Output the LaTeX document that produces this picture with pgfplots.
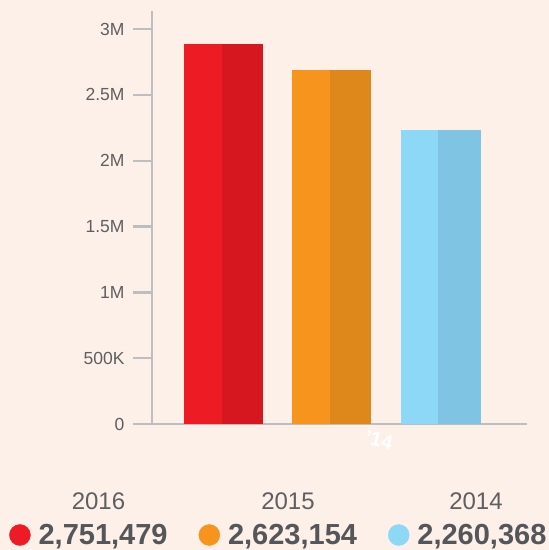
\documentclass[border=0pt]{standalone}
\usepackage{pgfplots}
\pgfplotsset{compat=1.18}
\usepackage{fontspec}
\setmainfont{Liberation Sans}
\definecolor{bg}{HTML}{FDF0E9}
\definecolor{redL}{HTML}{ED1C24}
\definecolor{redD}{HTML}{D7171F}
\definecolor{orL}{HTML}{F7941D}
\definecolor{orD}{HTML}{DE871A}
\definecolor{blL}{HTML}{8DD7F7}
\definecolor{blD}{HTML}{7FC4E2}
\definecolor{axisgray}{HTML}{BDBEC0}
\definecolor{tickgray}{HTML}{5E5F61}
\definecolor{valgray}{HTML}{555659}
\begin{document}
\begin{tikzpicture}[x=1pt,y=1pt]
\fill[bg] (0,0) rectangle (549,550);
\useasboundingbox (0,0) rectangle (549,550);
\begin{axis}[
  at={(152pt,126pt)}, anchor=south west,
  scale only axis, width=375pt, height=413pt,
  xmin=0, xmax=375, ymin=0, ymax=3138000,
  enlargelimits=false, clip=false,
  axis x line=bottom, axis y line=left,
  axis line style={-, draw=axisgray, line width=2pt},
  xtick=\empty,
  ytick={0,500000,1000000,1500000,2000000,2500000,3000000},
  yticklabels={0,500K,1M,1.5M,2M,2.5M,3M},
  scaled y ticks=false,
  /pgf/number format/assume math mode=true,
  tick align=outside, major tick length=19pt,
  every tick/.style={draw=axisgray, line width=2.5pt},
  yticklabel style={font=\fontsize{17.5}{19}\selectfont, text=tickgray, xshift=-5pt},
  legend style={at={(-0.3813,-0.2688)}, anchor=west, draw=none, fill=none,
    inner sep=0pt, legend columns=3,
    nodes={inner sep=0pt, text=valgray, font=\bfseries\fontsize{29}{30}\selectfont},
    /tikz/every odd column/.append style={column sep=8pt},
    /tikz/every even column/.append style={column sep=31pt}},
]
\addplot[ybar, fill=redL, draw=none, bar width=38, bar shift=0pt, forget plot] coordinates {(51,2888000)};
\addplot[ybar, fill=redD, draw=none, bar width=41, bar shift=0pt, forget plot] coordinates {(90.5,2888000)};
\addplot[ybar, fill=orL, draw=none, bar width=38, bar shift=0pt, forget plot] coordinates {(159,2690000)};
\addplot[ybar, fill=orD, draw=none, bar width=41, bar shift=0pt, forget plot] coordinates {(198.5,2690000)};
\addplot[ybar, fill=blL, draw=none, bar width=37, bar shift=0pt, forget plot] coordinates {(267.5,2234000)};
\addplot[ybar, fill=blD, draw=none, bar width=43, bar shift=0pt, forget plot] coordinates {(307.5,2234000)};
\addlegendimage{legend image code/.code={\fill[redL] (0pt,0pt) circle (10.5pt);}}
\addlegendentry{2,751,479}
\addlegendimage{legend image code/.code={\fill[orL] (0pt,0pt) circle (10.5pt);}}
\addlegendentry{2,623,154}
\addlegendimage{legend image code/.code={\fill[blL] (0pt,0pt) circle (10.5pt);}}
\addlegendentry{2,260,368}
\end{axis}
\node[font=\fontsize{24}{26}\selectfont, text=tickgray] at (98.5,48.5) {2016};
\node[font=\fontsize{24}{26}\selectfont, text=tickgray] at (288,48.5) {2015};
\node[font=\fontsize{24}{26}\selectfont, text=tickgray] at (476,48.5) {2014};
\node[font=\bfseries\fontsize{20}{22}\selectfont, text=white, rotate=-15, inner sep=0pt] at (379,110) {'14};
\end{tikzpicture}
\end{document}
